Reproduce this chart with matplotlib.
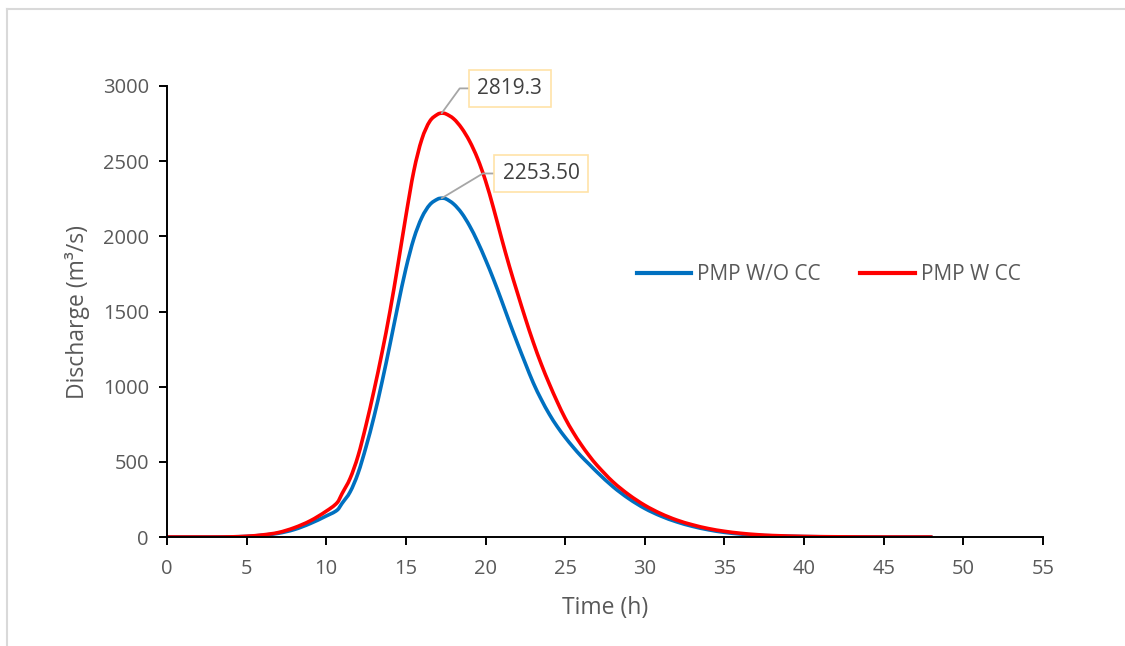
import matplotlib.pyplot as plt
from matplotlib.lines import Line2D
from matplotlib.path import Path
from matplotlib.patches import PathPatch

plt.rcParams['font.family'] = ['Open Sans', 'DejaVu Sans']

# hydrograph ordinates, time in hours
time_wo = [0, 1, 2, 3, 4, 5, 6, 7, 8, 9, 10, 10.7, 11, 11.5, 12, 12.5, 13, 13.5,
           14, 14.5, 15, 15.5, 16, 16.5, 17, 17.25, 17.5, 18, 18.5, 19, 19.5, 20,
           20.5, 21, 21.5, 22, 22.5, 23, 23.5, 24, 24.5, 25, 25.5, 26, 26.5, 27,
           28, 29, 30, 31, 32, 33, 34, 35, 36, 37, 38, 40, 42, 45, 48]
q_wo = [0, 0, 0, 0, 1, 4, 12, 25, 50, 90, 140, 180, 225, 300, 425, 600, 800, 1030,
        1280, 1540, 1785, 1985, 2125, 2210, 2248, 2253.5, 2250, 2215, 2155, 2070,
        1965, 1845, 1715, 1575, 1430, 1290, 1155, 1025, 915, 818, 735, 663, 598,
        538, 485, 432, 335, 255, 190, 140, 101, 71, 48, 31, 20, 12, 8, 3, 1, 0, 0]

time_w = [0, 1, 2, 3, 4, 5, 6, 7, 8, 9, 10, 10.7, 11, 11.5, 12, 12.5, 13, 13.5,
          14, 14.5, 15, 15.5, 16, 16.5, 17, 17.25, 17.5, 18, 18.5, 19, 19.5, 20,
          20.5, 21, 21.5, 22, 22.5, 23, 23.5, 24, 24.5, 25, 25.5, 26, 26.5, 27,
          28, 29, 30, 31, 32, 33, 34, 35, 36, 37, 38, 40, 42, 45, 48]
q_w = [0, 0, 0, 0, 1, 5, 14, 30, 62, 108, 172, 230, 290, 390, 540, 745, 975, 1225,
       1500, 1810, 2135, 2435, 2645, 2765, 2812, 2819.3, 2815, 2782, 2720, 2633,
       2518, 2370, 2188, 1990, 1800, 1625, 1455, 1295, 1150, 1020, 900, 790, 697,
       615, 542, 477, 367, 281, 211, 156, 113, 81, 56, 38, 25, 16, 10, 4, 1.5, 0, 0]

peak_t = 17.25
peak_wo = 2253.50
peak_w = 2819.3

grey = '#595959'
blue = '#0070C0'
red = '#FF0000'


def smooth_path(xs, ys):
    # cubic bezier through every point (hermite, slopes from neighbours)
    n = len(xs)
    slopes = []
    for i in range(n):
        a, b = max(i - 1, 0), min(i + 1, n - 1)
        slopes.append((ys[b] - ys[a]) / (xs[b] - xs[a]))
    verts = [(xs[0], ys[0])]
    codes = [Path.MOVETO]
    for i in range(n - 1):
        h = (xs[i + 1] - xs[i]) / 3
        verts += [(xs[i] + h, ys[i] + slopes[i] * h),
                  (xs[i + 1] - h, ys[i + 1] - slopes[i + 1] * h),
                  (xs[i + 1], ys[i + 1])]
        codes += [Path.CURVE4] * 3
    return Path(verts, codes)


fig = plt.figure(figsize=(11.25, 6.46), dpi=100)
ax = fig.add_axes([0.1484, 0.1687, 0.7787, 0.6982])

for xs, ys, c in [(time_wo, q_wo, blue), (time_w, q_w, red)]:
    ax.add_patch(PathPatch(smooth_path(xs, ys), fill=False, ec=c, lw=2.6,
                           capstyle='round', joinstyle='round'))

ax.set_xlim(0, 55)
ax.set_ylim(0, 3000)
ax.set_xticks(range(0, 56, 5))
ax.set_yticks(range(0, 3001, 500))
for s in ['top', 'right']:
    ax.spines[s].set_visible(False)
for s in ['left', 'bottom']:
    ax.spines[s].set_linewidth(1.4)
    ax.spines[s].set_color('black')
ax.tick_params(direction='out', length=6, width=1.4, colors='black',
               labelcolor=grey, labelsize=14.5)
ax.tick_params(axis='x', pad=10)
ax.tick_params(axis='y', pad=7)

ax.set_xlabel('Time (h)', fontsize=16.5, color=grey, labelpad=12)
ax.set_ylabel('Discharge (m³/s)', fontsize=16.5, color=grey, labelpad=9)

box = dict(boxstyle='square,pad=0.4', fc='white', ec='#FFE3A8', lw=1.2)
ax.annotate(f'{peak_w}', xy=(peak_t, peak_w), xytext=(21.53, 2984),
            ha='center', va='center', fontsize=15, color='#404040', bbox=box,
            arrowprops=dict(arrowstyle='-', color='#A6A6A6', lw=1.3,
                            connectionstyle='angle,angleA=0,angleB=54,rad=0',
                            shrinkA=0, shrinkB=0))
ax.annotate(f'{peak_wo:.2f}', xy=(peak_t, peak_wo), xytext=(23.48, 2418),
            ha='center', va='center', fontsize=15, color='#404040', bbox=box,
            arrowprops=dict(arrowstyle='-', color='#A6A6A6', lw=1.3,
                            connectionstyle='angle,angleA=0,angleB=31,rad=0',
                            shrinkA=0, shrinkB=0))

handles = [Line2D([], [], color=blue, lw=3), Line2D([], [], color=red, lw=3)]
ax.legend(handles, ['PMP W/O CC', 'PMP W CC'], loc='center left',
          bbox_to_anchor=(0.515, 0.582), ncol=2, frameon=False, fontsize=15,
          handlelength=2.6, handletextpad=0.3, columnspacing=1.9, labelcolor=grey)

# outer frame of the chart area (top and left edges)
fig.add_artist(Line2D([0.0062, 1], [0.986, 0.986], color='#D9D9D9', lw=1.5))
fig.add_artist(Line2D([0.0062, 0.0062], [0, 0.986], color='#D9D9D9', lw=1.5))

fig.savefig('out.png', dpi=100)
